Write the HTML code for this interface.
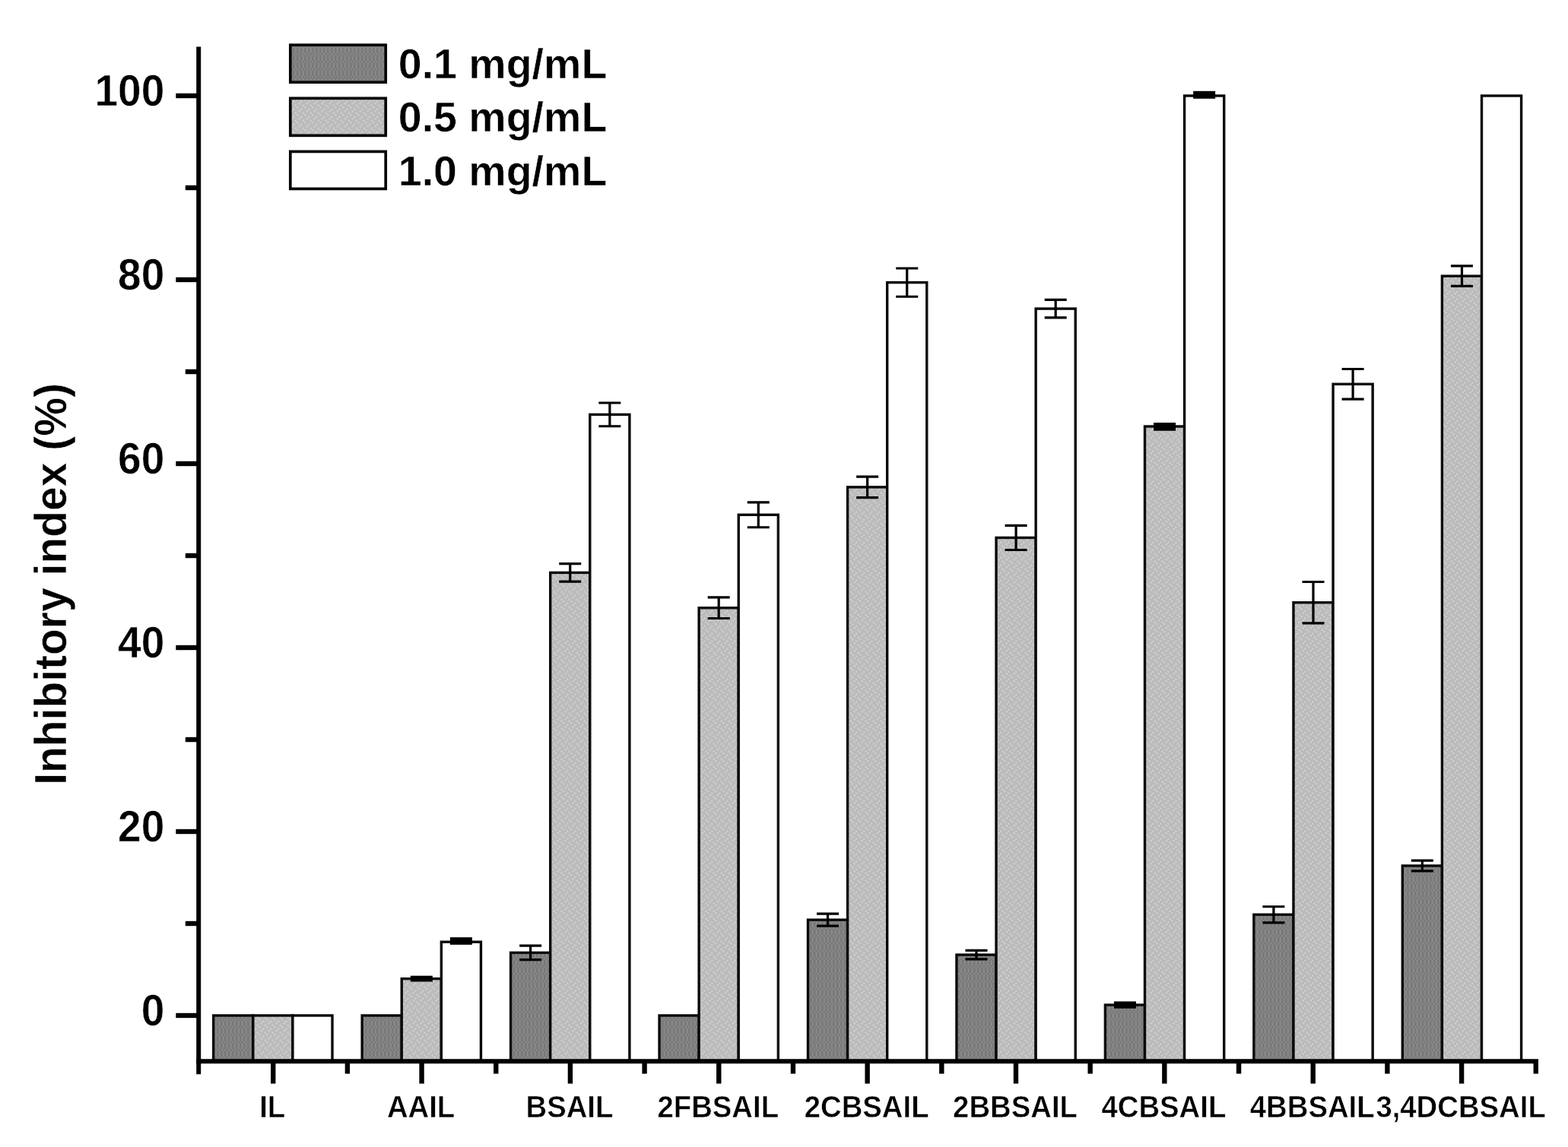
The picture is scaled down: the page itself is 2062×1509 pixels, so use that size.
<!DOCTYPE html>
<html lang="en"><head><meta charset="utf-8"><title>Inhibitory index</title>
<style>html,body{margin:0;padding:0;background:#fff}body{width:2062px;height:1509px}svg{display:block}text{font-family:"Liberation Sans",sans-serif;font-weight:bold;fill:#000;stroke:#fff;stroke-width:0.5px}</style>
</head><body>
<svg width="2062" height="1509" viewBox="0 0 2062 1509">
<defs>
<pattern id="pd" width="5" height="10" patternUnits="userSpaceOnUse"><rect width="5" height="10" fill="#787878"/><rect x="0" y="0" width="2.5" height="2.5" fill="#888888"/><rect x="2.5" y="2.5" width="2.5" height="7.5" fill="#888888"/></pattern>
<pattern id="pl" width="10" height="10" patternUnits="userSpaceOnUse"><rect width="10" height="10" fill="#bbbbbb"/><rect x="0" y="0" width="2.5" height="2.5" fill="#cdcdcd"/><rect x="5" y="2.5" width="2.5" height="2.5" fill="#cdcdcd"/><rect x="2.5" y="5" width="2.5" height="2.5" fill="#cdcdcd"/><rect x="7.5" y="7.5" width="2.5" height="2.5" fill="#cdcdcd"/></pattern>
<filter id="soft" x="0" y="0" width="100%" height="100%" filterUnits="userSpaceOnUse" color-interpolation-filters="sRGB"><feGaussianBlur stdDeviation="0.6"/></filter>
</defs>
<g filter="url(#soft)">
<rect x="-10" y="-10" width="2082" height="1529" fill="#ffffff"/>
<g stroke="#0a0a0a" stroke-width="3.4" stroke-linejoin="miter">
<rect x="280.70" y="1336.00" width="52.10" height="60.30" fill="url(#pd)"/>
<rect x="332.80" y="1336.00" width="52.10" height="60.30" fill="url(#pl)"/>
<rect x="384.90" y="1336.00" width="52.10" height="60.30" fill="#ffffff"/>
<rect x="476.15" y="1336.00" width="52.10" height="60.30" fill="url(#pd)"/>
<rect x="528.25" y="1287.60" width="52.10" height="108.70" fill="url(#pl)"/>
<rect x="580.35" y="1239.20" width="52.10" height="157.10" fill="#ffffff"/>
<rect x="671.60" y="1253.36" width="52.10" height="142.94" fill="url(#pd)"/>
<rect x="723.70" y="753.38" width="52.10" height="642.91" fill="url(#pl)"/>
<rect x="775.80" y="545.39" width="52.10" height="850.91" fill="#ffffff"/>
<rect x="867.05" y="1336.00" width="52.10" height="60.30" fill="url(#pd)"/>
<rect x="919.15" y="799.73" width="52.10" height="596.57" fill="url(#pl)"/>
<rect x="971.25" y="677.28" width="52.10" height="719.02" fill="#ffffff"/>
<rect x="1062.50" y="1210.16" width="52.10" height="186.14" fill="url(#pd)"/>
<rect x="1114.60" y="640.86" width="52.10" height="755.44" fill="url(#pl)"/>
<rect x="1166.70" y="371.63" width="52.10" height="1024.67" fill="#ffffff"/>
<rect x="1257.95" y="1256.14" width="52.10" height="140.16" fill="url(#pd)"/>
<rect x="1310.05" y="707.40" width="52.10" height="688.89" fill="url(#pl)"/>
<rect x="1362.15" y="406.12" width="52.10" height="990.18" fill="#ffffff"/>
<rect x="1453.40" y="1322.09" width="52.10" height="74.21" fill="url(#pd)"/>
<rect x="1505.50" y="561.00" width="52.10" height="835.30" fill="url(#pl)"/>
<rect x="1557.60" y="126.00" width="52.10" height="1270.30" fill="#ffffff"/>
<rect x="1648.85" y="1203.26" width="52.10" height="193.04" fill="url(#pd)"/>
<rect x="1700.95" y="792.71" width="52.10" height="603.59" fill="url(#pl)"/>
<rect x="1753.05" y="505.33" width="52.10" height="890.97" fill="#ffffff"/>
<rect x="1844.30" y="1139.01" width="52.10" height="257.29" fill="url(#pd)"/>
<rect x="1896.40" y="363.16" width="52.10" height="1033.14" fill="url(#pl)"/>
<rect x="1948.50" y="126.00" width="52.10" height="1270.30" fill="#ffffff"/>
</g>
<g stroke="#000" stroke-width="3.2" fill="none">
<rect x="539.80" y="1283.70" width="29.00" height="7.80" fill="#000" stroke="none"/>
<rect x="591.90" y="1233.13" width="29.00" height="9.73" fill="#000" stroke="none"/>
<path d="M683.15 1244.04H712.15M683.15 1262.67H712.15M697.65 1244.04V1262.67"/>
<path d="M735.25 741.65H764.25M735.25 765.12H764.25M749.75 741.65V765.12"/>
<path d="M787.35 530.02H816.35M787.35 560.75H816.35M801.85 530.02V560.75"/>
<path d="M930.70 785.93H959.70M930.70 813.52H959.70M945.20 785.93V813.52"/>
<path d="M982.80 660.82H1011.80M982.80 693.73H1011.80M997.30 660.82V693.73"/>
<path d="M1074.05 1202.17H1103.05M1074.05 1218.15H1103.05M1088.55 1202.17V1218.15"/>
<path d="M1126.15 627.06H1155.15M1126.15 654.65H1155.15M1140.65 627.06V654.65"/>
<path d="M1178.25 353.00H1207.25M1178.25 390.26H1207.25M1192.75 353.00V390.26"/>
<path d="M1269.50 1250.33H1298.50M1269.50 1261.95H1298.50M1284.00 1250.33V1261.95"/>
<path d="M1321.60 691.31H1350.60M1321.60 723.50H1350.60M1336.10 691.31V723.50"/>
<path d="M1373.70 394.38H1402.70M1373.70 417.85H1402.70M1388.20 394.38V417.85"/>
<rect x="1464.95" y="1317.46" width="29.00" height="9.25" fill="#000" stroke="none"/>
<rect x="1517.05" y="556.04" width="29.00" height="10.70" fill="#000" stroke="none"/>
<rect x="1569.15" y="119.81" width="29.00" height="9.98" fill="#000" stroke="none"/>
<path d="M1660.40 1192.74H1689.40M1660.40 1213.79H1689.40M1674.90 1192.74V1213.79"/>
<path d="M1712.50 765.49H1741.50M1712.50 819.94H1741.50M1727.00 765.49V819.94"/>
<path d="M1764.60 485.49H1793.60M1764.60 525.18H1793.60M1779.10 485.49V525.18"/>
<path d="M1855.85 1132.12H1884.85M1855.85 1145.91H1884.85M1870.35 1132.12V1145.91"/>
<path d="M1907.95 349.85H1936.95M1907.95 376.47H1936.95M1922.45 349.85V376.47"/>
</g>
<g stroke="#000" stroke-width="6.0" fill="none">
<path d="M261.20 61.50V1413.20"/>
<path d="M258.20 1396.30H2023.00"/>
</g>
<g stroke="#000" stroke-width="6.4" fill="none">
<path d="M231.30 1336.00H261.20"/>
<path d="M243.80 1215.00H261.20"/>
<path d="M231.30 1094.00H261.20"/>
<path d="M243.80 973.00H261.20"/>
<path d="M231.30 852.00H261.20"/>
<path d="M243.80 731.00H261.20"/>
<path d="M231.30 610.00H261.20"/>
<path d="M243.80 489.00H261.20"/>
<path d="M231.30 368.00H261.20"/>
<path d="M243.80 247.00H261.20"/>
<path d="M231.30 126.00H261.20"/>
<path d="M359.20 1396.30V1425.60"/>
<path d="M554.56 1396.30V1425.60"/>
<path d="M749.92 1396.30V1425.60"/>
<path d="M945.28 1396.30V1425.60"/>
<path d="M1140.64 1396.30V1425.60"/>
<path d="M1336.00 1396.30V1425.60"/>
<path d="M1531.36 1396.30V1425.60"/>
<path d="M1726.72 1396.30V1425.60"/>
<path d="M1922.08 1396.30V1425.60"/>
<path d="M456.88 1396.30V1412.60"/>
<path d="M652.24 1396.30V1412.60"/>
<path d="M847.60 1396.30V1412.60"/>
<path d="M1042.96 1396.30V1412.60"/>
<path d="M1238.32 1396.30V1412.60"/>
<path d="M1433.68 1396.30V1412.60"/>
<path d="M1629.04 1396.30V1412.60"/>
<path d="M1824.40 1396.30V1412.60"/>
<path d="M2019.76 1396.30V1412.60"/>
</g>
<text font-size="55" text-anchor="end" transform="translate(216.30 1349.40) scale(1.0000 1.0450)">0</text>
<text font-size="55" text-anchor="end" transform="translate(216.30 1107.40) scale(1.0000 1.0450)">20</text>
<text font-size="55" text-anchor="end" transform="translate(216.30 865.40) scale(1.0000 1.0450)">40</text>
<text font-size="55" text-anchor="end" transform="translate(216.30 623.40) scale(1.0000 1.0450)">60</text>
<text font-size="55" text-anchor="end" transform="translate(216.30 381.40) scale(1.0000 1.0450)">80</text>
<text font-size="55" text-anchor="end" transform="translate(216.30 139.40) scale(1.0000 1.0450)">100</text>
<text font-size="38.3" text-anchor="middle" transform="translate(358.20 1470.00) scale(1.0000 1.0400)">IL</text>
<text font-size="38.3" text-anchor="middle" transform="translate(553.56 1470.00) scale(1.0000 1.0400)">AAIL</text>
<text font-size="38.3" text-anchor="middle" transform="translate(748.92 1470.00) scale(1.0000 1.0400)">BSAIL</text>
<text font-size="38.3" text-anchor="middle" transform="translate(944.28 1470.00) scale(1.0000 1.0400)">2FBSAIL</text>
<text font-size="38.3" text-anchor="middle" transform="translate(1139.64 1470.00) scale(1.0000 1.0400)">2CBSAIL</text>
<text font-size="38.3" text-anchor="middle" transform="translate(1335.00 1470.00) scale(1.0000 1.0400)">2BBSAIL</text>
<text font-size="38.3" text-anchor="middle" transform="translate(1530.36 1470.00) scale(1.0000 1.0400)">4CBSAIL</text>
<text font-size="38.3" text-anchor="middle" transform="translate(1725.72 1470.00) scale(1.0000 1.0400)">4BBSAIL</text>
<text font-size="38.3" text-anchor="middle" transform="translate(1921.08 1470.00) scale(1.0000 1.0400)">3,4DCBSAIL</text>
<text font-size="57" text-anchor="middle" transform="translate(87.00 768.50) rotate(-90) scale(1.0000 1.0400)">Inhibitory index (%)</text>
<g stroke="#050505" stroke-width="3.7">
<rect x="381.8" y="59.20" width="125.4" height="49.0" fill="url(#pd)"/>
<rect x="381.8" y="129.30" width="125.4" height="49.0" fill="url(#pl)"/>
<rect x="381.8" y="199.40" width="125.4" height="49.0" fill="#ffffff"/>
</g>
<text font-size="55.5" text-anchor="start" transform="translate(523.80 103.20) scale(1.0000 1.0000)">0.1 mg/mL</text>
<text font-size="55.5" text-anchor="start" transform="translate(523.80 173.35) scale(1.0000 1.0000)">0.5 mg/mL</text>
<text font-size="55.5" text-anchor="start" transform="translate(523.80 243.50) scale(1.0000 1.0000)">1.0 mg/mL</text>
</g>
</svg>
</body></html>
